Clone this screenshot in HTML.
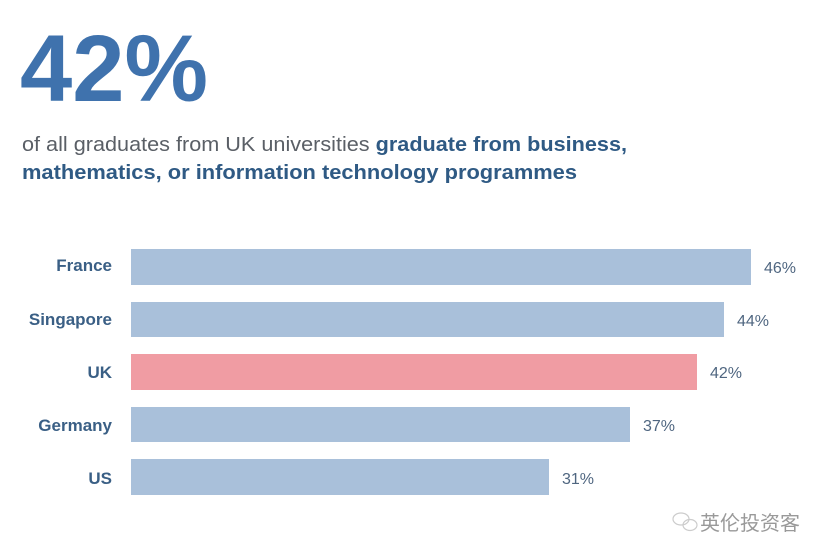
<!DOCTYPE html>
<html><head><meta charset="utf-8"><style>
html,body{margin:0;padding:0;background:#fff;width:827px;height:557px;overflow:hidden}
svg{display:block}
</style></head><body>
<svg width="827" height="557" xmlns="http://www.w3.org/2000/svg" font-family="Liberation Sans, sans-serif">
<rect width="827" height="557" fill="#fff"/>
<text x="20" y="101" font-size="95" font-weight="bold" fill="#3f72ad" textLength="188" lengthAdjust="spacingAndGlyphs">42%</text>
<text x="22" y="151" font-size="20" textLength="605" lengthAdjust="spacingAndGlyphs"><tspan fill="#5a5f66">of all graduates from UK universities </tspan><tspan fill="#2f5a84" font-weight="bold">graduate from business,</tspan></text>
<text x="22" y="179" font-size="20" font-weight="bold" fill="#2f5a84" textLength="555" lengthAdjust="spacingAndGlyphs">mathematics, or information technology programmes</text>
<g font-size="17" font-weight="bold" fill="#3a5f85" text-anchor="end">
<text x="112" y="271">France</text>
<text x="112" y="325">Singapore</text>
<text x="112" y="378">UK</text>
<text x="112" y="431">Germany</text>
<text x="112" y="484">US</text>
</g>
<rect x="131" y="249" width="620" height="36" fill="#a9c0da"/>
<rect x="131" y="302" width="593" height="35" fill="#a9c0da"/>
<rect x="131" y="354" width="566" height="36" fill="#f09ca3"/>
<rect x="131" y="407" width="499" height="35" fill="#a9c0da"/>
<rect x="131" y="459" width="418" height="36" fill="#a9c0da"/>
<g font-size="16" fill="#4f6680">
<text x="764" y="273">46%</text>
<text x="737" y="326">44%</text>
<text x="710" y="378">42%</text>
<text x="643" y="431">37%</text>
<text x="562" y="484">31%</text>
</g>
<g fill="none" stroke="#ccc" stroke-width="1.2">
<ellipse cx="681" cy="519" rx="8" ry="6"/>
<ellipse cx="690" cy="525" rx="7" ry="5.5"/>
</g>
<text x="700" y="530" font-size="20" fill="#999" font-family="Liberation Sans, Noto Sans CJK SC, sans-serif">英伦投资客</text>
</svg>
</body></html>
